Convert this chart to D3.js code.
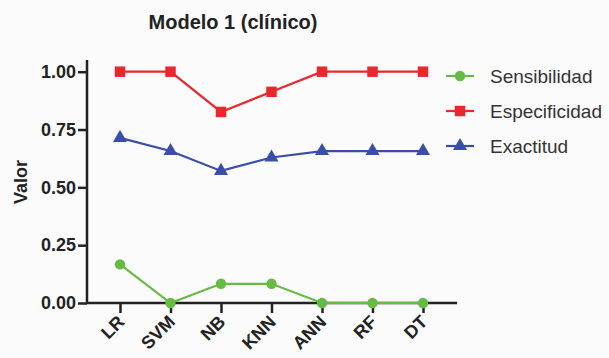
<!DOCTYPE html>
<html><head><meta charset="utf-8">
<script src="https://cdn.jsdelivr.net/npm/d3@7"></script>
<style>body{margin:0;background:#fbfbfb;}svg{display:block;font-family:"Liberation Sans",Arial,sans-serif;}</style>
</head><body>
<svg id="c" width="609" height="358"></svg>
<script>
const categories = ["LR","SVM","NB","KNN","ANN","RF","DT"];
const sensibilidad = [0.167,0,0.083,0.083,0,0,0];
const especificidad = [1,1,0.826,0.913,1,1,1];
const exactitud = [0.714,0.657,0.571,0.629,0.657,0.657,0.657];
const yTicks = [0,0.25,0.5,0.75,1.0];
const seriesNames = ["Sensibilidad","Especificidad","Exactitud"];
const colors = ["#66bb44","#e8282d","#3a4ea8"];
const symbols = [d3.symbolCircle, d3.symbolSquare, d3.symbolTriangle];
const symSizes = [85, 110, 85];

const svg = d3.select("#c");
const x = d3.scalePoint().domain(categories).range([120,423]);
const y = d3.scaleLinear().domain([0,1]).range([303,71.7]);

svg.append("text").attr("x",233).attr("y",29).attr("text-anchor","middle")
  .attr("font-size",20).attr("font-weight","bold").attr("fill","#222").text("Modelo 1 (clínico)");

// y axis
const ya = svg.append("g").attr("transform","translate(87,0)")
  .call(d3.axisLeft(y).tickValues(yTicks).tickFormat(d3.format(".2f")).tickSize(9).tickSizeOuter(0));
ya.select(".domain").remove();
ya.append("line").attr("x1",0).attr("x2",0).attr("y1",60).attr("y2",303).attr("stroke","#222").attr("stroke-width",2.5);
ya.selectAll(".tick line").attr("stroke","#222").attr("stroke-width",2.5);
ya.selectAll(".tick text").attr("font-size",18).attr("font-weight","bold").attr("fill","#222").attr("x",-11).attr("font-family","Liberation Sans, Arial, sans-serif");

// x axis
const xa = svg.append("g").attr("transform","translate(0,303)")
  .call(d3.axisBottom(x).tickSize(10).tickSizeOuter(0));
xa.select(".domain").remove();
xa.append("line").attr("x1",86).attr("x2",457).attr("y1",0).attr("y2",0).attr("stroke","#222").attr("stroke-width",2.5);
xa.selectAll(".tick line").attr("stroke","#222").attr("stroke-width",2.5);
xa.selectAll(".tick text").attr("font-size",18).attr("font-weight","bold").attr("fill","#222")
  .attr("font-family","Liberation Sans, Arial, sans-serif")
  .attr("text-anchor","end").attr("dy",0).attr("y",0)
  .attr("transform","translate(5,20) rotate(-45)");

svg.append("text").attr("transform","translate(27,182) rotate(-90)").attr("text-anchor","middle")
  .attr("font-size",18).attr("font-weight","bold").attr("fill","#222").text("Valor");

const data = [sensibilidad, especificidad, exactitud];
const line = d3.line().x((d,i)=>x(categories[i])).y(d=>y(d));
[2,1,0].forEach(k=>{
  const g = svg.append("g");
  g.append("path").datum(data[k]).attr("d",line).attr("fill","none").attr("stroke",colors[k]).attr("stroke-width",2.2);
  g.selectAll("path.m").data(data[k]).join("path").attr("class","m")
    .attr("transform",(d,i)=>`translate(${x(categories[i])},${y(d)})`)
    .attr("d",d3.symbol().type(symbols[k]).size(symSizes[k])).attr("fill",colors[k]);
});

// legend
const legY = [76,111,146];
seriesNames.forEach((n,k)=>{
  const g = svg.append("g").attr("transform",`translate(460,${legY[k]})`);
  g.append("line").attr("x1",-14).attr("x2",14).attr("stroke",colors[k]).attr("stroke-width",2.2);
  g.append("path").attr("d",d3.symbol().type(symbols[k]).size(symSizes[k])).attr("fill",colors[k]);
  g.append("text").attr("x",30).attr("y",7).attr("font-size",19).attr("fill","#333").text(n);
});
</script>
</body></html>
